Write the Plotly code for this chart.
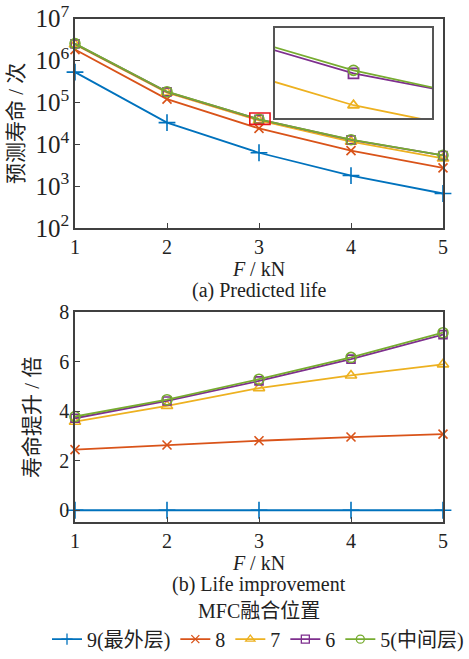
import plotly.graph_objects as go

# ---------------- data ----------------
F = [1, 2, 3, 4, 5]
names = ["9(最外层)", "8", "7", "6", "5(中间层)"]

life9 = [5.3e5, 3.3e4, 6.3e3, 1.8e3, 6.7e2]
life8 = [1.83e6, 1.2e5, 2.4e4, 7.1e3, 2.75e3]
life7 = [2.43e6, 1.72e5, 3.74e4, 1.16e4, 4.62e3]
life6 = [2.50e6, 1.79e5, 3.95e4, 1.28e4, 5.43e3]
life5 = [2.54e6, 1.805e5, 3.97e4, 1.29e4, 5.48e3]

imp9 = [0, 0, 0, 0, 0]
imp8 = [2.45, 2.64, 2.81, 2.96, 3.08]
imp7 = [3.58, 4.22, 4.94, 5.45, 5.90]
imp6 = [3.72, 4.42, 5.23, 6.11, 7.10]
imp5 = [3.79, 4.47, 5.30, 6.18, 7.18]

y_ticks_b = [0, 2, 4, 6, 8]

# ---------------- style ----------------
colors = ["#0072BD", "#D95319", "#EDB120", "#7E2F8E", "#77AC30"]
symbols = ["cross-thin", "x-thin", "triangle-up-open", "square-open", "circle-open"]
sizes = [12, 9, 10, 8, 10]
lives = [life9, life8, life7, life6, life5]
imps = [imp9, imp8, imp7, imp6, imp5]

FONT = "Liberation Serif, Times New Roman, Noto Sans CJK SC, serif"
AX = "#404040"
TXT = "#222"
W, H = 469, 659

def px_x(p):
    return p / W

def px_y(p):
    return 1 - p / H

fig = go.Figure()

for i in range(5):
    mk = dict(symbol=symbols[i], size=sizes[i], color=colors[i],
              line=dict(color=colors[i], width=1.6))
    fig.add_trace(go.Scatter(x=F, y=lives[i], mode="lines+markers", name=names[i],
                             line=dict(color=colors[i], width=1.8), marker=mk,
                             cliponaxis=False, showlegend=False,
                             xaxis="x", yaxis="y"))
    fig.add_trace(go.Scatter(x=F, y=imps[i], mode="lines+markers", name=names[i],
                             line=dict(color=colors[i], width=1.8), marker=mk,
                             cliponaxis=False, showlegend=False,
                             xaxis="x2", yaxis="y2"))
    # legend entry (smaller marker as in the reference legend)
    fig.add_trace(go.Scatter(x=[None], y=[None], mode="lines+markers", name=names[i],
                             line=dict(color=colors[i], width=1.8),
                             marker=dict(symbol=symbols[i], size=8, color=colors[i],
                                         line=dict(color=colors[i], width=1.3)),
                             showlegend=True, xaxis="x2", yaxis="y2"))
    if i >= 2:
        fig.add_trace(go.Scatter(x=F, y=lives[i], mode="lines+markers", name=names[i],
                                 line=dict(color=colors[i], width=1.8),
                                 marker=dict(symbol=symbols[i], size=10, color=colors[i],
                                             line=dict(color=colors[i], width=1.8)),
                                 cliponaxis=True, showlegend=False,
                                 xaxis="x3", yaxis="y3"))

xdom = [px_x(75), px_x(443)]
axis_common = dict(showline=True, linecolor=AX, linewidth=1.5, mirror=True,
                   ticks="inside", ticklen=5, tickcolor=AX, showgrid=False,
                   zeroline=False, automargin=False,
                   tickfont=dict(family=FONT, size=20, color=TXT))

fig.update_layout(
    width=W, height=H,
    margin=dict(l=0, r=0, t=0, b=0),
    paper_bgcolor="white", plot_bgcolor="white",
    font=dict(family=FONT, size=20, color=TXT),
    xaxis=dict(domain=xdom, anchor="y", range=[1, 5], tickvals=F,
               title=dict(text="<i>F</i> / kN", standoff=0,
                          font=dict(family=FONT, size=20)),
               **axis_common),
    yaxis=dict(domain=[px_y(232), px_y(19)], anchor="x", type="log", range=[2, 7],
               dtick=1, exponentformat="power",
               title=dict(text="预测寿命 / 次", standoff=6,
                          font=dict(family=FONT, size=21)),
               **axis_common),
    xaxis2=dict(domain=xdom, anchor="y2", range=[1, 5], tickvals=F,
                title=dict(text="<i>F</i> / kN", standoff=0,
                           font=dict(family=FONT, size=20)),
                **axis_common),
    yaxis2=dict(domain=[px_y(531), px_y(317.7)], anchor="x2", range=[-0.48, 8],
                tickvals=y_ticks_b,
                title=dict(text="寿命提升 / 倍", standoff=14,
                           font=dict(family=FONT, size=21)),
                **axis_common),
    xaxis3=dict(domain=[px_x(275), px_x(432)], anchor="y3", range=[2.974, 3.026],
                showticklabels=False, ticks="", showline=True, linecolor="#555",
                linewidth=2, mirror=True, showgrid=False, zeroline=False,
                automargin=False),
    yaxis3=dict(domain=[px_y(120), px_y(28.3)], anchor="x3", type="log",
                range=[4.5634, 4.6304], showticklabels=False, ticks="",
                showline=True, linecolor="#555", linewidth=2, mirror=True,
                showgrid=False, zeroline=False, automargin=False),
    legend=dict(orientation="h", x=0.551, y=px_y(650), xanchor="center",
                yanchor="middle", font=dict(family=FONT, size=20, color=TXT),
                itemwidth=30, tracegroupgap=0, bgcolor="rgba(0,0,0,0)"),
    shapes=[dict(type="rect", xref="x", yref="y", x0=2.9, x1=3.12, y0=3.0e4, y1=5.6e4,
                 line=dict(color="#E8141B", width=1.6))],
    annotations=[
        dict(text="(a) Predicted life", xref="paper", yref="paper",
             x=px_x(259), y=px_y(295), showarrow=False,
             font=dict(family=FONT, size=20, color=TXT), yanchor="middle"),
        dict(text="(b) Life improvement", xref="paper", yref="paper",
             x=px_x(259), y=px_y(594), showarrow=False,
             font=dict(family=FONT, size=20, color=TXT), yanchor="middle"),
        dict(text="MFC融合位置", xref="paper", yref="paper",
             x=px_x(259), y=px_y(621), showarrow=False,
             font=dict(family=FONT, size=20, color=TXT), yanchor="middle"),
    ],
)

fig.write_html("out.html")
